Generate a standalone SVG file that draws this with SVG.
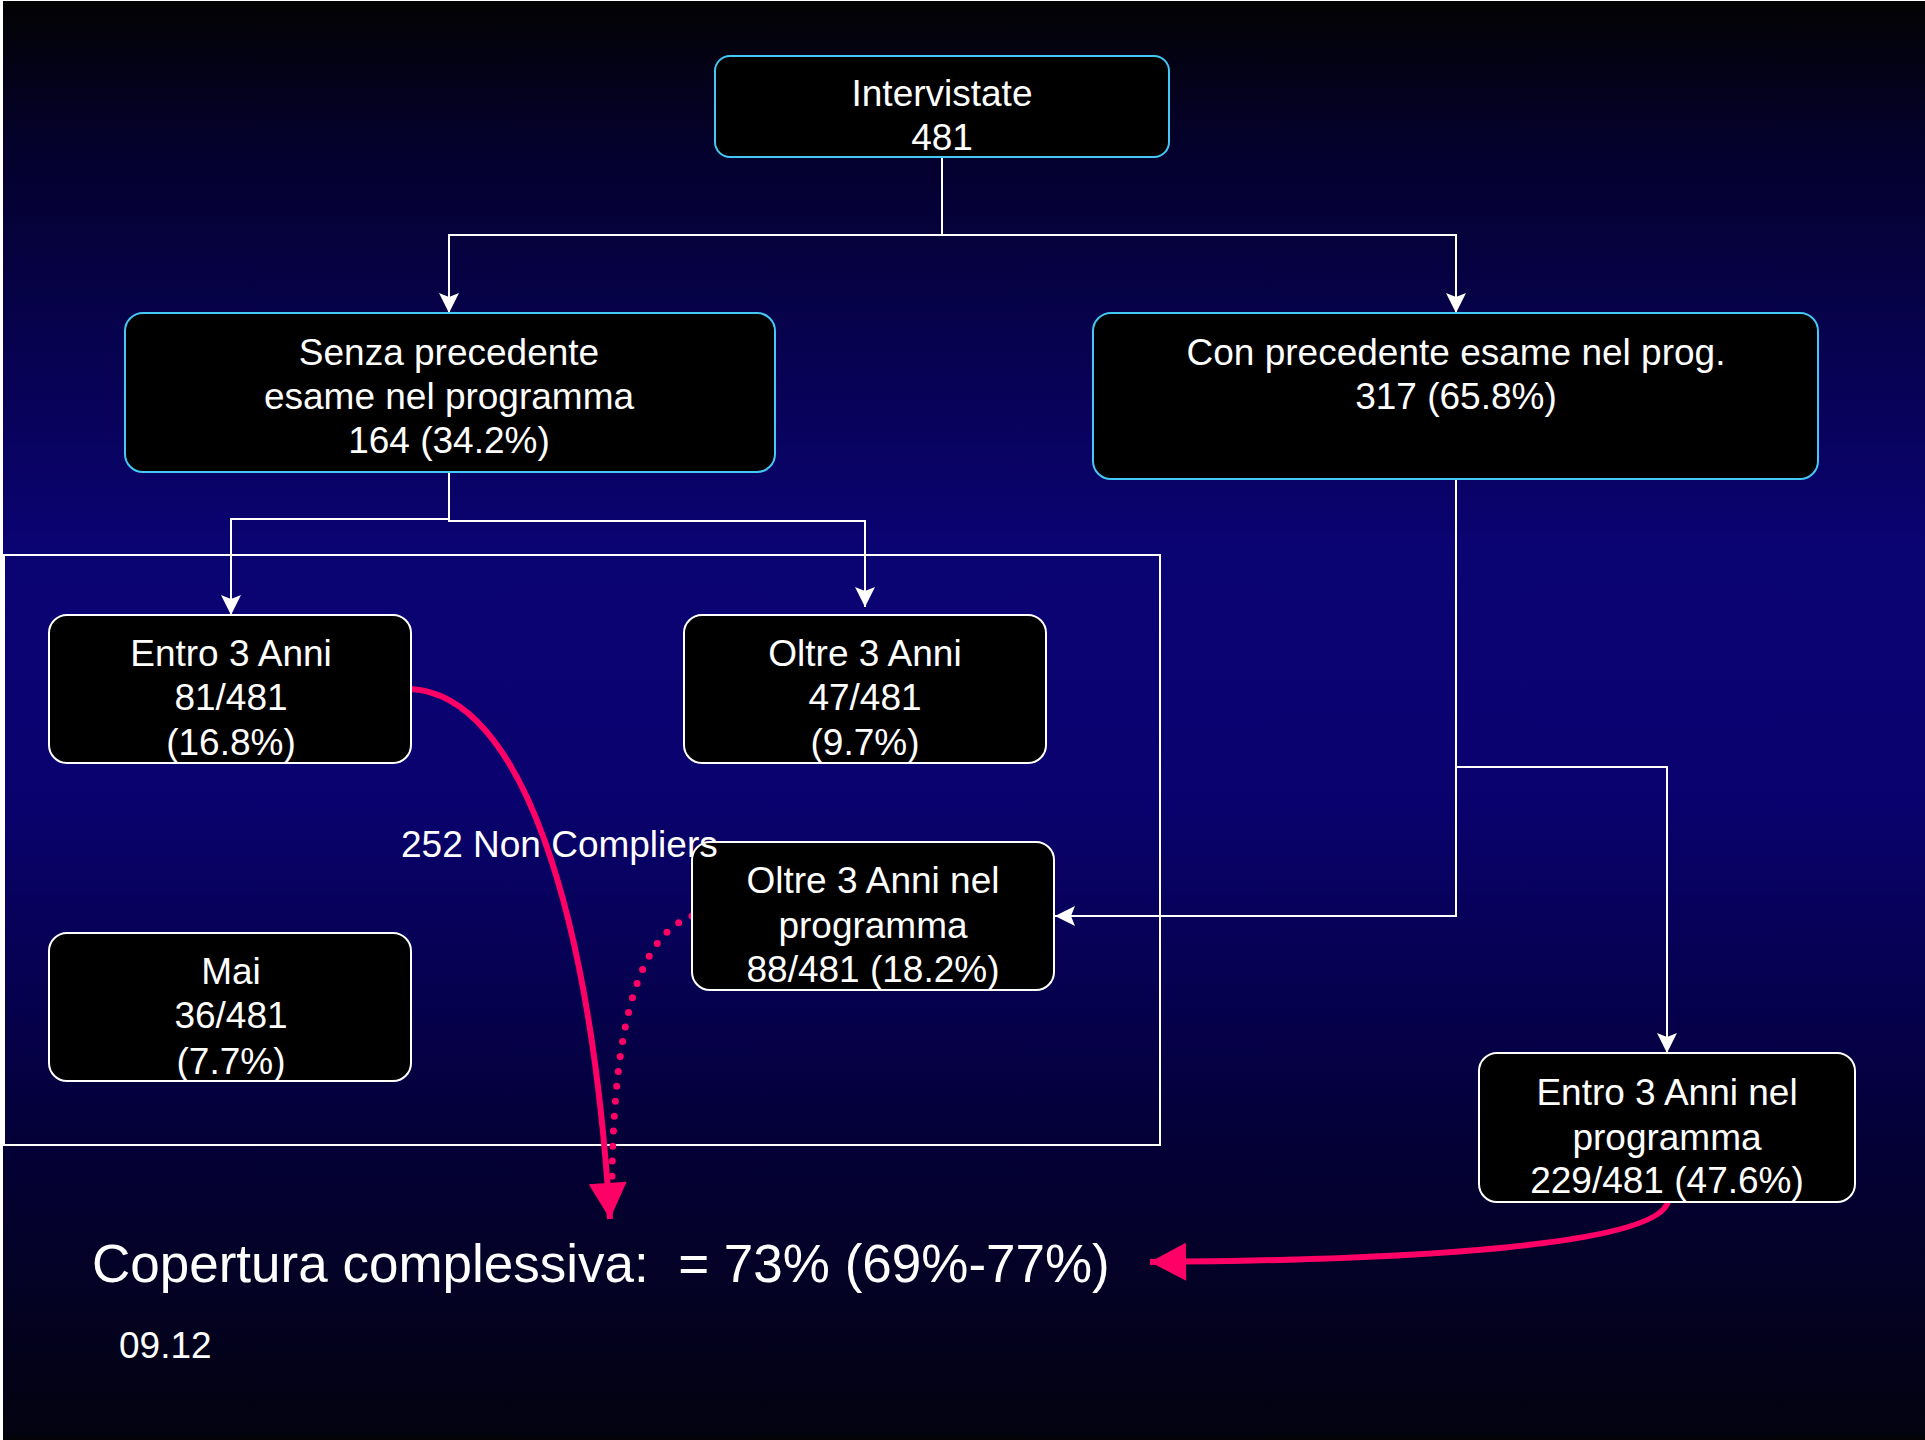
<svg xmlns="http://www.w3.org/2000/svg" width="1925" height="1440" viewBox="0 0 1925 1440">
<defs>
<linearGradient id="bg" x1="0" y1="0" x2="0" y2="1">
<stop offset="0" stop-color="#030303"/>
<stop offset="0.1" stop-color="#04012c"/>
<stop offset="0.38" stop-color="#0a0372"/>
<stop offset="0.55" stop-color="#09026f"/>
<stop offset="0.78" stop-color="#04003a"/>
<stop offset="1" stop-color="#030310"/>
</linearGradient>
<marker id="wa" markerUnits="userSpaceOnUse" markerWidth="22" markerHeight="22" viewBox="0 0 22 22" refX="21" refY="11" orient="auto">
<path d="M1,1 L21,11 L1,21 L5,11 z" fill="#ffffff"/>
</marker>
<marker id="pa" markerUnits="userSpaceOnUse" markerWidth="42" markerHeight="42" viewBox="0 0 42 42" refX="40" refY="21" orient="auto">
<path d="M4,2 L40,21 L4,40 z" fill="#ff0066"/>
</marker>
</defs>
<style>
.t{font-family:"Liberation Sans",Arial,sans-serif;font-size:37px;fill:#ffffff;text-anchor:middle}
.bb{fill:#000000;stroke:#44c8f5;stroke-width:2}
.bw{fill:#000000;stroke:#ffffff;stroke-width:2}
.c{fill:none;stroke:#ffffff;stroke-width:2}
.p{fill:none;stroke:#ff0066;stroke-width:6}
</style>
<rect x="0" y="0" width="1925" height="1440" fill="#ffffff"/>
<rect x="3" y="1" width="1922" height="1435" fill="url(#bg)"/>
<rect x="3" y="1436" width="1922" height="4" fill="#030308"/>

<rect x="4" y="555" width="1156" height="590" fill="none" stroke="#ffffff" stroke-width="2"/>

<g id="connectors">
<path class="c" d="M942,157 V235"/>
<path class="c" d="M942,235 H449 V313" marker-end="url(#wa)"/>
<path class="c" d="M942,235 H1456 V313" marker-end="url(#wa)"/>
<path class="c" d="M449,472 V519 H231 V615" marker-end="url(#wa)"/>
<path class="c" d="M449,519 V521 H865 V607" marker-end="url(#wa)"/>
<path class="c" d="M1456,479 V916 H1055" marker-end="url(#wa)"/>
<path class="c" d="M1456,767 H1667 V1053" marker-end="url(#wa)"/>
<path class="p" d="M411,689 C520,695 590,905 610,1219" marker-end="url(#pa)"/>
<path d="M692,916 C640,935 614,1020 612,1180" fill="none" stroke="#ff0066" stroke-width="7" stroke-linecap="round" stroke-dasharray="0 15"/>
<path class="p" d="M1668,1202 C1655,1245 1420,1260 1150,1262" marker-end="url(#pa)"/>
</g>

<g id="n-intervistate">
<rect class="bb" x="715" y="56" width="454" height="101" rx="15"/>
<text class="t" x="942" y="106">Intervistate</text>
<text class="t" x="942" y="150">481</text>
</g>
<g id="n-senza">
<rect class="bb" x="125" y="313" width="650" height="159" rx="18"/>
<text class="t" x="449" y="365">Senza precedente</text>
<text class="t" x="449" y="409">esame nel programma</text>
<text class="t" x="449" y="453">164 (34.2%)</text>
</g>
<g id="n-con">
<rect class="bb" x="1093" y="313" width="725" height="166" rx="18"/>
<text class="t" x="1456" y="365">Con precedente esame nel prog.</text>
<text class="t" x="1456" y="409">317 (65.8%)</text>
</g>
<g id="n-entro">
<rect class="bw" x="49" y="615" width="362" height="148" rx="18"/>
<text class="t" x="231" y="666">Entro 3 Anni</text>
<text class="t" x="231" y="710">81/481</text>
<text class="t" x="231" y="755">(16.8%)</text>
</g>
<g id="n-oltre">
<rect class="bw" x="684" y="615" width="362" height="148" rx="18"/>
<text class="t" x="865" y="666">Oltre 3 Anni</text>
<text class="t" x="865" y="710">47/481</text>
<text class="t" x="865" y="755">(9.7%)</text>
</g>
<g id="n-oltre-prog">
<rect class="bw" x="692" y="842" width="362" height="148" rx="18"/>
<text class="t" x="873" y="893">Oltre 3 Anni nel</text>
<text class="t" x="873" y="938">programma</text>
<text class="t" x="873" y="982">88/481 (18.2%)</text>
</g>
<g id="n-mai">
<rect class="bw" x="49" y="933" width="362" height="148" rx="18"/>
<text class="t" x="231" y="984">Mai</text>
<text class="t" x="231" y="1028">36/481</text>
<text class="t" x="231" y="1074">(7.7%)</text>
</g>
<g id="n-entro-prog">
<rect class="bw" x="1479" y="1053" width="376" height="149" rx="18"/>
<text class="t" x="1667" y="1105">Entro 3 Anni nel</text>
<text class="t" x="1667" y="1150">programma</text>
<text class="t" x="1667" y="1193">229/481 (47.6%)</text>
</g>

<text class="t" x="401" y="857" style="text-anchor:start">252 Non Compliers</text>
<text class="t" x="92" y="1282" style="text-anchor:start;font-size:53px" xml:space="preserve">Copertura complessiva:  = 73% (69%-77%)</text>
<text class="t" x="119" y="1358" style="text-anchor:start">09.12</text>
</svg>
